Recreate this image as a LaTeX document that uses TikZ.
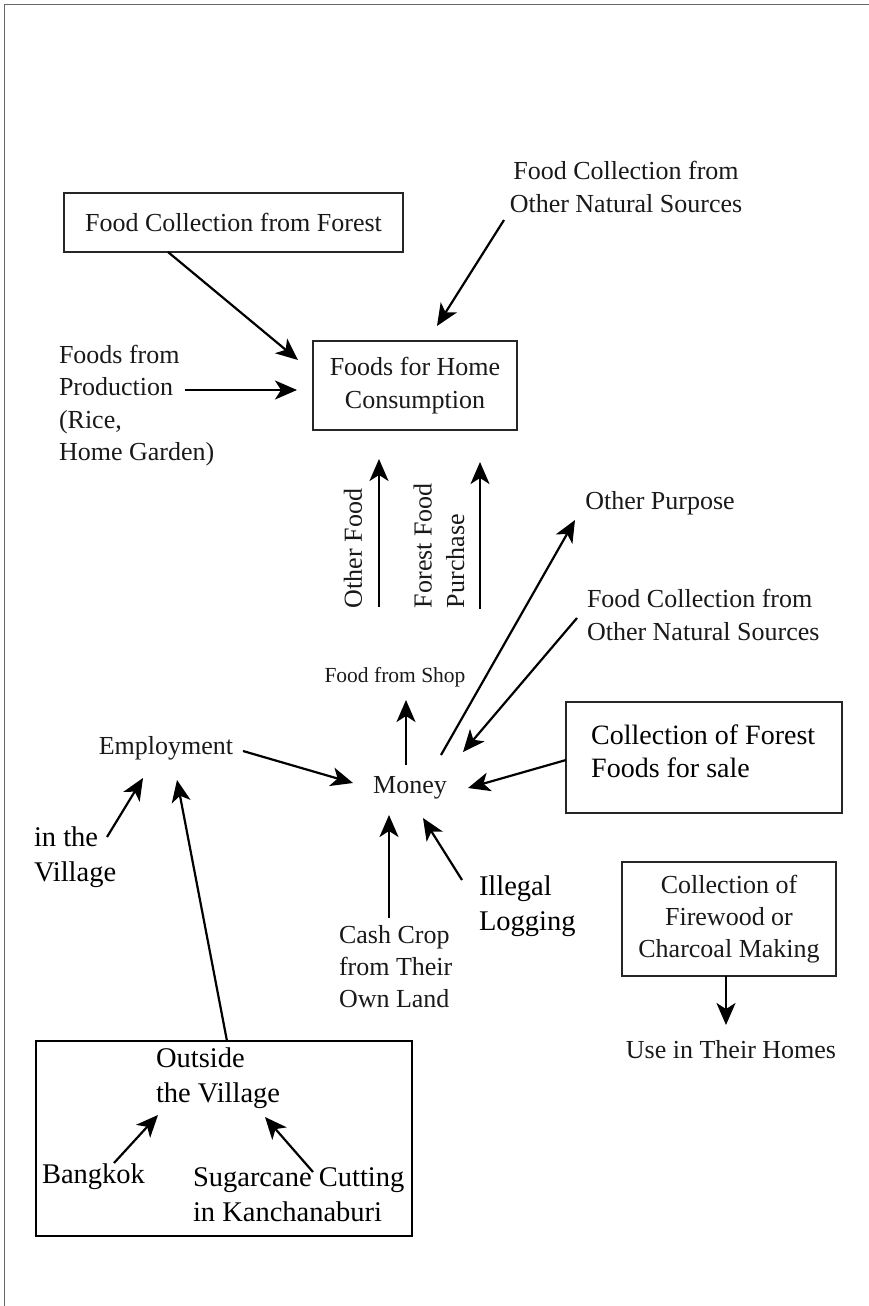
\documentclass[tikz,border=0pt]{standalone}
\usepackage{fontspec}
\setmainfont{Liberation Serif}
\usetikzlibrary{arrows.meta}
\begin{document}
\begin{tikzpicture}[x=1pt,y=-1pt,
  t26/.style={font=\fontsize{26}{32.3}\selectfont, inner sep=0pt, outer sep=0pt, text=black!90},
  t28/.style={font=\fontsize{28.5}{35}\selectfont, inner sep=0pt, outer sep=0pt, text=black},
  t21/.style={font=\fontsize{21.5}{26}\selectfont, inner sep=0pt, outer sep=0pt, text=black!90},
  boxed/.style={draw=black!85, line width=1.8pt, inner sep=0pt, outer sep=0pt},
  arr/.style={line width=2.2pt, -{Stealth[length=22pt,width=19pt,inset=6pt]}},
  frame/.style={draw=black!60, line width=1.5pt}]
\useasboundingbox (0,0) rectangle (869,1306);
% page frame
\draw[frame] (4.5,1306) -- (4.5,4.5) -- (869,4.5);

% top section
\node[boxed, t26, minimum width=339pt, minimum height=59pt] (ffor) at (233.5,222.5) {Food Collection from Forest};
\node[boxed, t26, minimum width=204pt, minimum height=89pt, align=center] (home) at (415,385.5) {Foods for Home\\Consumption};
\node[t26, align=left, anchor=west] (prod) at (59,405.5) {Foods from\\Production\\(Rice,\\Home Garden)};
\node[t26, align=center] (fcos) at (626,187) {Food Collection from\\Other Natural Sources};

% rotated labels
\node[t26, rotate=90, anchor=west] (ofood) at (353,608) {Other Food};
\node[t26, rotate=90, anchor=west, align=left] (ffp) at (439,608) {Forest Food\\Purchase};

% middle section
\node[t21] (shop) at (395,677) {Food from Shop};
\node[t26] (opur) at (660,503) {Other Purpose};
\node[t26, align=left, anchor=west] (fcos2) at (587,615) {Food Collection from\\Other Natural Sources};
\node[t26] (money) at (410,788) {Money};
\node[boxed, minimum width=276pt, minimum height=111pt] (sale) at (704,757.5) {};
\node[font=\fontsize{28}{33}\selectfont, inner sep=0pt, text=black, align=left, anchor=west] (saletxt) at ([shift={(25,-6)}]sale.west) {Collection of Forest\\Foods for sale};
\node[t26] (emp) at (166,748) {Employment};
\node[t28, align=left, anchor=west] (vill) at (34,857.5) {in the\\Village};
\node[t26, align=left, anchor=west] (cash) at (339,966.5) {Cash Crop\\from Their\\Own Land};
\node[t28, align=left, anchor=west] (illeg) at (479,906) {Illegal\\Logging};

% right lower
\node[boxed, t26, minimum width=214pt, minimum height=114pt, align=center] (fire) at (729,919) {Collection of\\Firewood or\\Charcoal Making};
\node[t26] (use) at (731,1050) {Use in Their Homes};

% bottom box
\node[draw=black, line width=2.4pt, minimum width=376pt, minimum height=195pt, inner sep=0pt, outer sep=0pt] (out) at (224,1138.5) {};
\node[t28, align=left, anchor=west] (outs) at (156,1078.5) {Outside\\the Village};
\node[t28] (bkk) at (93.5,1177) {Bangkok};
\node[t28, align=left, anchor=west] (sug) at (193,1195) {Sugarcane Cutting\\in Kanchanaburi};

% connectors
\draw[arr] ([shift={(-65.5,29.5)}]ffor.center) -- ([shift={(-117,-25.5)}]home.center);
\draw[arr] ([shift={(126,-15.5)}]prod.west) -- ([shift={(-118,4.5)}]home.center);
\draw[arr] ([shift={(-122,33)}]fcos.center) -- ([shift={(22,-59.5)}]home.center);
\draw[arr] ([shift={(-16,-70)}]shop.center) -- ([shift={(-36,73.5)}]home.center);
\draw[arr] ([shift={(85,-68)}]shop.center) -- ([shift={(65,76.5)}]home.center);
\draw[arr] ([shift={(-4,-23)}]money.center) -- ([shift={(11,23)}]shop.center);
\draw[arr] ([shift={(31,-33)}]money.center) -- ([shift={(-85,17)}]opur.center);
\draw[arr] ([shift={(-10,3)}]fcos2.west) -- ([shift={(53,-36)}]money.center);
\draw[arr] ([shift={(0,2.5)}]sale.west) -- ([shift={(58,0)}]money.center);
\draw[arr] ([shift={(77,3)}]emp.center) -- ([shift={(-57,-5)}]money.center);
\draw[arr] ([shift={(50,-48.5)}]cash.west) -- ([shift={(-21,27)}]money.center);
\draw[arr] ([shift={(-17,-26)}]illeg.west) -- ([shift={(13,30)}]money.center);
\draw[arr] ([shift={(73,-20.5)}]vill.west) -- ([shift={(-23,30)}]emp.center);
\draw[arr] ([shift={(3,0)}]out.north) -- ([shift={(11,32)}]emp.center);
\draw[arr] ([shift={(-3,0)}]fire.south) -- ([shift={(-5,-25)}]use.center);
\draw[arr] ([shift={(20.5,-14)}]bkk.center) -- ([shift={(2,36.5)}]outs.west);
\draw[arr] ([shift={(120,-23)}]sug.west) -- ([shift={(109,38.5)}]outs.west);
\end{tikzpicture}
\end{document}
